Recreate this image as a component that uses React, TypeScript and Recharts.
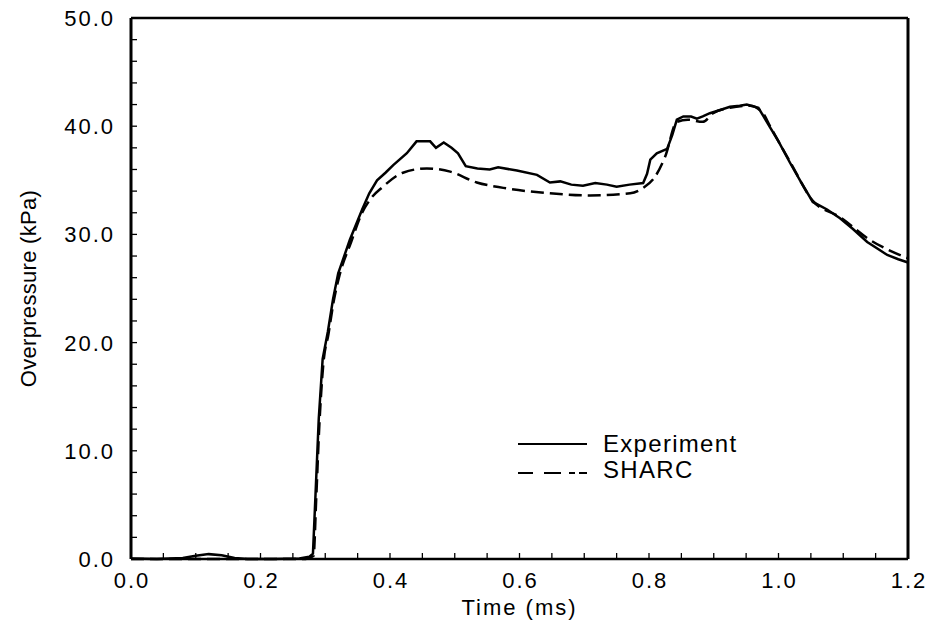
import { LineChart, Line, XAxis, YAxis, Legend } from "recharts";

// Experiment trace (time in ms, overpressure in kPa)
const expTime = [
  0, 0.04, 0.08, 0.1, 0.12, 0.14, 0.16, 0.18, 0.22, 0.26, 0.275, 0.281, 0.285, 0.29, 0.296,
  0.304, 0.312, 0.32, 0.338, 0.357, 0.368, 0.38, 0.393, 0.405, 0.426, 0.441, 0.462, 0.471,
  0.483, 0.495, 0.505, 0.517, 0.535, 0.554, 0.567, 0.596, 0.627, 0.647, 0.663, 0.68, 0.698,
  0.717, 0.735, 0.75, 0.77, 0.791, 0.797, 0.802, 0.812, 0.828, 0.836, 0.843, 0.853, 0.865,
  0.874, 0.883, 0.894, 0.91, 0.925, 0.94, 0.951, 0.969, 0.987, 1.0, 1.018, 1.035, 1.053,
  1.075, 1.095, 1.115, 1.137, 1.155, 1.168, 1.185, 1.2,
];
const expPressure = [
  0.05, 0, 0.1, 0.3, 0.45, 0.35, 0.1, 0, 0, 0.05, 0.2, 0.5, 6, 13, 18.5,
  21, 24, 26.4, 29.5, 32.3, 33.8, 35.0, 35.7, 36.4, 37.5, 38.6, 38.6, 38.0,
  38.5, 38.0, 37.5, 36.3, 36.1, 36.0, 36.2, 35.9, 35.5, 34.8, 34.9, 34.6, 34.5,
  34.75, 34.6, 34.4, 34.6, 34.75, 35.6, 36.9, 37.5, 37.9, 39.2, 40.6, 40.9, 40.9,
  40.7, 40.9, 41.2, 41.5, 41.8, 41.9, 42.0, 41.7, 39.9, 38.6, 36.6, 34.8, 33.0,
  32.3, 31.5, 30.5, 29.3, 28.6, 28.1, 27.7, 27.4,
];

// SHARC simulation
const sharcTime = [
  0, 0.1, 0.2, 0.27, 0.282, 0.286, 0.291, 0.297, 0.305, 0.313, 0.322, 0.34, 0.357, 0.369,
  0.389, 0.42, 0.457, 0.493, 0.534, 0.575, 0.647, 0.709, 0.771, 0.791, 0.809, 0.825, 0.843,
  0.86, 0.883, 0.899, 0.925, 0.956, 0.976, 0.987, 1.018, 1.053, 1.095, 1.141, 1.172, 1.2,
];
const sharcPressure = [
  0, 0, 0, 0, 0.3, 5.5, 12.5, 18, 20.8, 23.8, 26.2, 29.3, 32.0, 33.2,
  34.4, 35.7, 36.1, 35.8, 34.8, 34.3, 33.8, 33.6, 33.8, 34.3, 35.3, 37.2, 40.4,
  40.6, 40.4, 41.2, 41.7, 41.9, 41.2, 40.0, 36.7, 33.1, 31.6, 29.5, 28.5, 27.8,
];

const seriesNames = ["Experiment", "SHARC"];

const xTicks = [
  0, 0.05, 0.1, 0.15, 0.2, 0.25, 0.3, 0.35, 0.4, 0.45, 0.5, 0.55, 0.6, 0.65, 0.7, 0.75,
  0.8, 0.85, 0.9, 0.95, 1.0, 1.05, 1.1, 1.15, 1.2,
];
const xLabelTicks = [0, 0.2, 0.4, 0.6, 0.8, 1.0, 1.2];
const yTicks = [
  0, 2, 4, 6, 8, 10, 12, 14, 16, 18, 20, 22, 24, 26, 28, 30, 32, 34, 36, 38, 40, 42, 44, 46,
  48, 50,
];
const yLabelTicks = [0, 10, 20, 30, 40, 50];

const expData = expTime.map((t, i) => ({ t, p: expPressure[i] }));
const sharcData = sharcTime.map((t, i) => ({ t, p: sharcPressure[i] }));

const FONT = "'Liberation Sans', Arial, Helvetica, sans-serif";
const TICK_LEN = 6;
const DASH = "13 6";

const isMajor = (list: number[], v: number) => list.some((m) => Math.abs(m - v) < 1e-6);

const labelText = {
  fill: "#000",
  fontSize: 22,
  fontFamily: FONT,
  letterSpacing: 2,
};

// ticks point into the plot; tickSize/tickMargin are 0 so x/y is the axis line
function BottomTick(props: any) {
  const { x, y, payload } = props;
  const v = payload.value as number;
  return (
    <g>
      <line x1={x} x2={x} y1={y} y2={y - TICK_LEN} stroke="#000" strokeWidth={1.3} />
      {isMajor(xLabelTicks, v) && (
        <text x={x + 1} y={y + 29} textAnchor="middle" {...labelText}>
          {v.toFixed(1)}
        </text>
      )}
    </g>
  );
}

function TopTick(props: any) {
  const { x, y } = props;
  return <line x1={x} x2={x} y1={y} y2={y + TICK_LEN} stroke="#000" strokeWidth={1.3} />;
}

function LeftTick(props: any) {
  const { x, y, payload } = props;
  const v = payload.value as number;
  return (
    <g>
      <line x1={x} x2={x + TICK_LEN} y1={y} y2={y} stroke="#000" strokeWidth={1.3} />
      {isMajor(yLabelTicks, v) && (
        <text x={x - 16} y={y + 8} textAnchor="end" {...labelText}>
          {v.toFixed(1)}
        </text>
      )}
    </g>
  );
}

function RightTick(props: any) {
  const { x, y } = props;
  return <line x1={x} x2={x - TICK_LEN} y1={y} y2={y} stroke="#000" strokeWidth={1.3} />;
}

function LegendBox() {
  return (
    <svg width={250} height={70} style={{ overflow: "visible" }}>
      <line x1={3} x2={72} y1={19} y2={19} stroke="#000" strokeWidth={2.2} />
      <text x={88} y={27} fontSize={24} fontFamily={FONT} letterSpacing={1.3} fill="#000">
        {seriesNames[0]}
      </text>
      <line
        x1={3}
        x2={72}
        y1={48}
        y2={48}
        stroke="#000"
        strokeWidth={2.2}
        strokeDasharray="15 11 17 8 6 4 8"
      />
      <text x={88} y={53} fontSize={24} fontFamily={FONT} letterSpacing={1.3} fill="#000">
        {seriesNames[1]}
      </text>
    </svg>
  );
}

export default function App() {
  return (
    <div style={{ position: "absolute", left: 0, top: 0, width: 930, height: 628, background: "#fff" }}>
      <LineChart width={930} height={628} margin={{ top: 17, right: 21, left: 0, bottom: 0 }}>
        <XAxis
          xAxisId="b"
          type="number"
          dataKey="t"
          domain={[0, 1.2]}
          ticks={xTicks}
          interval={0}
          tickSize={0}
          tickMargin={0}
          tickLine={false}
          tick={<BottomTick />}
          height={69}
          axisLine={{ stroke: "#000", strokeWidth: 2.5 }}
          label={{
            value: "Time (ms)",
            position: "insideBottom",
            offset: 13,
            style: { ...labelText },
          }}
        />
        <XAxis
          xAxisId="t"
          orientation="top"
          type="number"
          dataKey="t"
          domain={[0, 1.2]}
          ticks={xTicks}
          interval={0}
          tickSize={0}
          tickMargin={0}
          tickLine={false}
          tick={<TopTick />}
          height={1}
          axisLine={{ stroke: "#000", strokeWidth: 2.5 }}
        />
        <YAxis
          yAxisId="l"
          type="number"
          domain={[0, 50]}
          ticks={yTicks}
          interval={0}
          tickSize={0}
          tickMargin={0}
          tickLine={false}
          tick={<LeftTick />}
          width={131}
          axisLine={{ stroke: "#000", strokeWidth: 3 }}
          label={{
            value: "Overpressure (kPa)",
            angle: -90,
            position: "insideLeft",
            offset: 28,
            style: {
              textAnchor: "middle",
              fill: "#000",
              fontSize: 22,
              fontFamily: FONT,
              letterSpacing: 0.3,
            },
          }}
        />
        <YAxis
          yAxisId="r"
          orientation="right"
          type="number"
          domain={[0, 50]}
          ticks={yTicks}
          interval={0}
          tickSize={0}
          tickMargin={0}
          tickLine={false}
          tick={<RightTick />}
          width={1}
          axisLine={{ stroke: "#000", strokeWidth: 3 }}
        />
        <Legend
          layout="horizontal"
          verticalAlign="middle"
          align="center"
          wrapperStyle={{ left: 515, top: 425, width: 250, height: 70 }}
          content={() => <LegendBox />}
        />
        <Line
          xAxisId="b"
          yAxisId="l"
          data={expData}
          dataKey="p"
          name={seriesNames[0]}
          type="linear"
          stroke="#000"
          strokeWidth={2.5}
          dot={false}
          activeDot={false}
          isAnimationActive={false}
        />
        <Line
          xAxisId="b"
          yAxisId="l"
          data={sharcData}
          dataKey="p"
          name={seriesNames[1]}
          type="monotone"
          stroke="#000"
          strokeWidth={2.5}
          strokeDasharray={DASH}
          dot={false}
          activeDot={false}
          isAnimationActive={false}
        />
      </LineChart>
    </div>
  );
}
